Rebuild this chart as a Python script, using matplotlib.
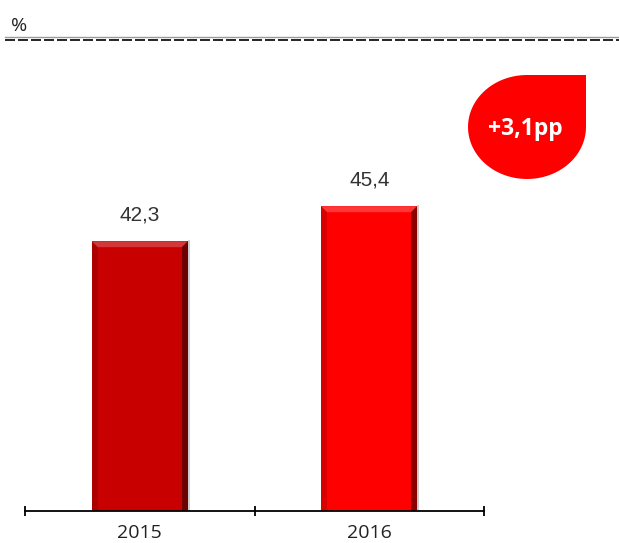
import matplotlib
matplotlib.use("Agg")
import matplotlib.pyplot as plt
import numpy as np
from matplotlib.patches import Polygon, PathPatch
from matplotlib.path import Path

years = ["2015", "2016"]
values = [42.3, 45.4]
value_labels = ["42,3", "45,4"]
bar_colors = ["#C80000", "#FF0000"]
unit_label = "%"
badge_text = "+3,1pp"

W, H = 619, 543
fig = plt.figure(figsize=(W / 100, H / 100), dpi=100)

# main axes placed to match the reference pixels
ax_left, ax_right, ax_base, ax_top = 25, 484, 511, 60
ax = fig.add_axes([ax_left / W, (H - ax_base) / H,
                   (ax_right - ax_left) / W, (ax_base - ax_top) / H])
x = np.arange(len(years))
bar_w = 0.42
ymin, ymax = 18.4, 58.35
bars = ax.bar(x, values, width=bar_w, color=bar_colors, zorder=2)
ax.set_xlim(-0.5, 1.5)
ax.set_ylim(ymin, ymax)

# bevel effect on the bars
px_x = (ax_right - ax_left) / 2.0
px_y = (ax_base - ax_top) / (ymax - ymin)
bx, by = 6 / px_x, 6 / px_y
for b in bars:
    x0, x1 = b.get_x(), b.get_x() + b.get_width()
    y0, y1 = ymin, b.get_height()
    top = Polygon([(x0, y1), (x1, y1), (x1 - bx, y1 - by), (x0 + bx, y1 - by)],
                  closed=True, facecolor="white", alpha=0.22, lw=0, zorder=3)
    right = Polygon([(x1, y1), (x1, y0), (x1 - bx, y0), (x1 - bx, y1 - by)],
                    closed=True, facecolor="black", alpha=0.45, lw=0, zorder=3)
    left = Polygon([(x0, y1), (x0, y0), (x0 + bx, y0), (x0 + bx, y1 - by)],
                   closed=True, facecolor="black", alpha=0.15, lw=0, zorder=3)
    ax.add_patch(top)
    ax.add_patch(right)
    ax.add_patch(left)
    ax.plot([x1 + 0.004, x1 + 0.004], [y0, y1], color="#888888", lw=1.2,
            alpha=0.5, zorder=1)

for xi, v, lab in zip(x, values, value_labels):
    ax.annotate(lab, (xi, v), xytext=(0, 12), textcoords="offset points",
                ha="center", va="bottom", fontsize=15,
                family="Liberation Sans", color="#333333")

for s in ["top", "right", "left"]:
    ax.spines[s].set_visible(False)
ax.spines["bottom"].set_linewidth(1.3)
ax.set_yticks([])
ax.set_xticks(x)
ax.set_xticklabels(years, fontsize=14, family="Open Sans", color="#222222")
ax.tick_params(axis="x", which="major", length=0, pad=9)
ax.set_xticks([-0.5, 0.5, 1.5], minor=True)
ax.tick_params(axis="x", which="minor", length=7, direction="inout", width=1.3)

# overlay in pixel coordinates for header and badge
ov = fig.add_axes([0, 0, 1, 1])
ov.set_xlim(0, W)
ov.set_ylim(H, 0)
ov.axis("off")
ov.patch.set_alpha(0)

ov.text(11, 35, unit_label, fontsize=14, family="Open Sans", color="#222222",
        va="bottom", ha="left")
ov.plot([5, W], [37, 37], color="#999999", lw=1.0)
ov.plot([5, W], [39.5, 39.5], color="black", lw=1.2, dashes=(6, 1.8))

# teardrop badge
cx, cy, rx, ry = 527, 127, 59, 52
t = np.linspace(np.pi / 2, 2 * np.pi, 80)
pts = [(cx + rx * np.cos(a), cy - ry * np.sin(a)) for a in t]
pts += [(cx + rx, cy - ry), (cx, cy - ry)]
codes = [Path.MOVETO] + [Path.LINETO] * (len(pts) - 2) + [Path.CLOSEPOLY]
ov.add_patch(PathPatch(Path(pts, codes), facecolor="#FF0000", lw=0))
ov.text(cx - 2, cy + 2, badge_text, ha="center", va="center", color="white",
        fontsize=16.5, fontweight="bold", family="Open Sans")

fig.savefig("out.png", dpi=100)
